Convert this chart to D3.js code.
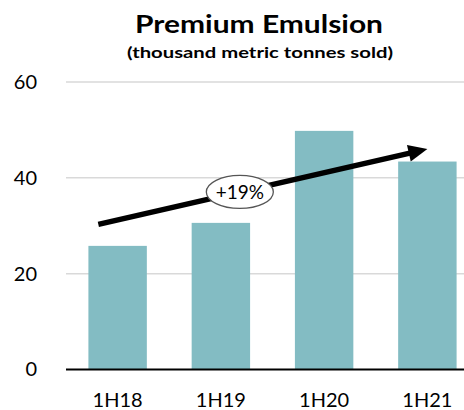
<!DOCTYPE html>
<html>
<head>
<meta charset="utf-8">
<script src="https://cdn.jsdelivr.net/npm/d3@7"></script>
<style>
  html, body { margin: 0; padding: 0; background: #fff; }
  svg { display: block; }
  text { font-family: Lato, "Open Sans", sans-serif; fill: #000; }
</style>
</head>
<body>
<svg id="chart" width="464" height="410"></svg>
<script>
// Sales volume by half-year
const categories = ["1H18", "1H19", "1H20", "1H21"];
const volumes = [25.8, 30.6, 49.8, 43.4];
const yTicks = [0, 20, 40, 60];
const growthLabel = "+19%";
// Trend arrow ends, in data units (category, position within band, value)
const trendStart = { cat: "1H18", frac: 0.17, value: 30.3 };
const trendEnd = { cat: "1H21", frac: 0.5, value: 46.0 };

const svg = d3.select("#chart");
const W = 464, H = 410;

const x = d3.scaleBand()
  .domain(categories)
  .range([66, 479])
  .paddingInner(0.434)
  .paddingOuter(0.217);

const y = d3.scaleLinear().domain([0, 60]).range([369.5, 82]);

// Title
svg.append("text")
  .attr("x", 259).attr("y", 33)
  .attr("text-anchor", "middle")
  .attr("font-family", "'Open Sans', sans-serif")
  .attr("font-weight", "bold")
  .attr("font-size", 24)
  .attr("textLength", 248)
  .attr("lengthAdjust", "spacingAndGlyphs")
  .text("Premium Emulsion");
svg.append("text")
  .attr("x", 260).attr("y", 58)
  .attr("text-anchor", "middle")
  .attr("font-family", "'Open Sans', sans-serif")
  .attr("font-weight", "bold")
  .attr("font-size", 15.5)
  .attr("textLength", 266)
  .attr("lengthAdjust", "spacingAndGlyphs")
  .text("(thousand metric tonnes sold)");

// Gridlines
svg.append("g")
  .selectAll("line")
  .data(yTicks.filter(d => d !== 0))
  .join("line")
  .attr("x1", 66).attr("x2", W)
  .attr("y1", d => y(d)).attr("y2", d => y(d))
  .attr("stroke", "#d9d9d9")
  .attr("stroke-width", 1.5);

// Y axis labels
const yAxis = d3.axisLeft(y).tickValues(yTicks).tickSize(0).tickPadding(0);
const gy = svg.append("g").attr("transform", "translate(37,0)").call(yAxis);
gy.select(".domain").remove();
gy.selectAll("text")
  .attr("font-family", "Lato, sans-serif")
  .attr("font-size", 20)
  .attr("fill", "#000");

// Bars
svg.append("g")
  .selectAll("rect")
  .data(categories.map((c, i) => ({ c, v: volumes[i] })))
  .join("rect")
  .attr("x", d => x(d.c))
  .attr("width", x.bandwidth())
  .attr("y", d => y(d.v))
  .attr("height", d => y(0) - y(d.v))
  .attr("fill", "#83bcc3");

// Baseline
svg.append("line")
  .attr("x1", 66).attr("x2", W)
  .attr("y1", y(0)).attr("y2", y(0))
  .attr("stroke", "#000")
  .attr("stroke-width", 2);

// X axis labels
const xAxis = d3.axisBottom(x).tickSize(0).tickPadding(0);
const gx = svg.append("g").attr("transform", `translate(0,${y(0) + 23})`).call(xAxis);
gx.select(".domain").remove();
gx.selectAll("text")
  .attr("font-family", "Lato, sans-serif")
  .attr("font-size", 20)
  .attr("fill", "#000");

// Trend arrow
const x0 = x(trendStart.cat) + x.bandwidth() * trendStart.frac;
const y0 = y(trendStart.value);
const x1 = x(trendEnd.cat) + x.bandwidth() * trendEnd.frac;
const y1 = y(trendEnd.value);
const ang = Math.atan2(y1 - y0, x1 - x0);
const headLen = 19, headHalf = 8.5;
const bx = x1 - headLen * Math.cos(ang), by = y1 - headLen * Math.sin(ang);
svg.append("line")
  .attr("x1", x0).attr("y1", y0)
  .attr("x2", bx + Math.cos(ang)).attr("y2", by + Math.sin(ang))
  .attr("stroke", "#000")
  .attr("stroke-width", 5.5);
svg.append("path")
  .attr("d", d3.line()([
    [x1, y1],
    [bx + headHalf * Math.sin(ang), by - headHalf * Math.cos(ang)],
    [bx - headHalf * Math.sin(ang), by + headHalf * Math.cos(ang)]
  ]) + "Z")
  .attr("fill", "#000");

// Growth label bubble
const t = 0.43;
const ex = x0 + (x1 - x0) * t, ey = y0 + (y1 - y0) * t;
svg.append("ellipse")
  .attr("cx", ex).attr("cy", ey)
  .attr("rx", 33.5).attr("ry", 16.5)
  .attr("fill", "#fff")
  .attr("stroke", "#555")
  .attr("stroke-width", 1.3);
svg.append("text")
  .attr("x", ex).attr("y", ey)
  .attr("dy", "0.36em")
  .attr("text-anchor", "middle")
  .attr("font-size", 19)
  .text(growthLabel);
</script>
</body>
</html>
